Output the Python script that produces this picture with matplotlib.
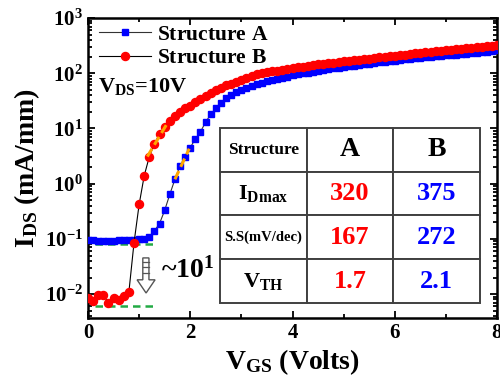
import matplotlib.pyplot as plt
from matplotlib.patches import Polygon
from matplotlib.ticker import LogLocator, MultipleLocator, NullFormatter

plt.rcParams['font.family'] = 'Liberation Serif'
plt.rcParams['font.weight'] = 'bold'
plt.rcParams['axes.labelweight'] = 'bold'
plt.rcParams['mathtext.fontset'] = 'custom'
plt.rcParams['mathtext.rm'] = 'Liberation Serif:bold'
plt.rcParams['mathtext.it'] = 'Liberation Serif:bold'
plt.rcParams['mathtext.bf'] = 'Liberation Serif:bold'

# gate voltage sweep, 0 .. 8 V in 0.1 V steps
vgs = [i / 10 for i in range(81)]

ids_a = [0.095, 0.094, 0.093, 0.093, 0.093, 0.093, 0.094, 0.094, 0.095, 0.096,
         0.098, 0.100, 0.110, 0.140, 0.190, 0.330, 0.640, 1.20, 2.10, 3.10,
         4.50, 6.50, 8.70, 13.0, 18.0, 23.0, 29.0, 35.0, 40.0, 45.0,
         50.0, 54.0, 59.0, 63.0, 67.0, 71.0, 75.0, 79.0, 83.0, 87.0,
         91.0, 95.0, 99.0, 103., 107., 111., 115., 119., 123., 126.,
         130., 134., 138., 142., 146., 150., 154., 158., 162., 166.,
         170., 174., 178., 182., 186., 190., 194., 198., 202., 206.,
         210., 214., 218., 222., 227., 232., 237., 242., 247., 252.,
         258.]

ids_b = [0.0085, 0.0075, 0.0095, 0.0095, 0.0070, 0.0085, 0.0078, 0.0092, 0.0110, 0.085,
         0.42, 1.40, 3.10, 5.30, 8.00, 10.5, 13.5, 16.5, 19.5, 23.0,
         26.0, 30.0, 34.0, 39.0, 44.0, 49.0, 54.0, 60.0, 65.0, 70.0,
         76.0, 82.0, 88.0, 95.0, 100., 104., 108., 112., 116., 120.,
         124., 128., 132., 136., 140., 144., 148., 152., 156., 160.,
         164., 168., 172., 176., 180., 184., 188., 193., 198., 203.,
         208., 213., 218., 223., 228., 233., 238., 243., 248., 253.,
         258., 264., 270., 276., 282., 288., 294., 300., 306., 312.,
         320.]

# subthreshold slope fits (dashed orange) and off-current floors (dashed green)
fit_a_v = [1.70, 1.98]
fit_a_i = [1.2, 4.3]
fit_b_v = [1.16, 1.53]
fit_b_i = [3.1, 11.5]
floor_v = [0.14, 1.30]
floor_a = [0.081, 0.081]
floor_b = [0.0061, 0.0061]

table_rows = [['Structure', 'A', 'B'],
              [r'I$_{\mathregular{Dmax}}$', '320', '375'],
              ['S.S(mV/dec)', '167', '272'],
              [r'V$_{\mathregular{TH}}$', '1.7', '2.1']]

fig = plt.figure(figsize=(5.0, 3.83), dpi=100)
ax = fig.add_axes([0.176, 0.170, 0.818, 0.783])

ax.plot(vgs, ids_a, color='#333333', lw=0.8, marker='s', ms=4.8,
        mfc='blue', mec='blue', label=r'$\mathrm{Structure\ A}$', zorder=3)
ax.plot(vgs, ids_b, color='black', lw=0.8, marker='o', ms=5.8,
        mfc='red', mec='red', label=r'$\mathrm{Structure\ B}$', zorder=4)
ax.plot(fit_a_v, fit_a_i, color='orange', lw=2.2, ls=(0, (3, 1.5)), zorder=5)
ax.plot(fit_b_v, fit_b_i, color='orange', lw=2.2, ls=(0, (3, 1.5)), zorder=5)
ax.plot(floor_v, floor_a, color='#22aa44', lw=1.8, ls=(0, (3, 2)), zorder=2)
ax.plot(floor_v, floor_b, color='#22aa44', lw=1.8, ls=(0, (3, 2)), zorder=2)

ax.set_yscale('log')
ax.set_xlim(0, 8)
ax.set_ylim(10 ** -2.43, 1e3)
ax.xaxis.set_major_locator(MultipleLocator(2))
ax.xaxis.set_minor_locator(MultipleLocator(1))
ax.yaxis.set_major_locator(LogLocator(base=10, numticks=10))
ax.yaxis.set_minor_locator(LogLocator(base=10, subs=range(2, 10), numticks=20))
ax.yaxis.set_minor_formatter(NullFormatter())
ax.tick_params(which='both', direction='in', top=True, right=True, width=1.3, labelsize=15)
ax.tick_params(which='major', length=5)
ax.tick_params(which='minor', length=3)
for s in ax.spines.values():
    s.set_linewidth(1.8)

ax.set_xlabel(r'V$_{\mathregular{GS}}$ (Volts)', fontsize=20, fontweight='bold', labelpad=3)
ax.set_ylabel(r'I$_{\mathregular{DS}}$ (mA/mm)', fontsize=20, fontweight='bold', labelpad=2)

ax.legend(loc='upper left', bbox_to_anchor=(-0.005, 1.02), frameon=False, fontsize=15.5,
          handlelength=2.4, handletextpad=0.3, labelspacing=0.15, borderaxespad=0.2)
ax.text(0.025, 0.77, r'V$_{\mathregular{DS}}$=10V', transform=ax.transAxes,
        fontsize=16, fontweight='bold', va='center')

# hollow arrow marking the one-decade drop of off-current
arrow = Polygon([(0.134, 0.200), (0.149, 0.200), (0.149, 0.127), (0.164, 0.127),
                 (0.142, 0.083), (0.120, 0.127), (0.134, 0.127)],
                closed=True, transform=ax.transAxes, fc='white', ec='#555555', lw=1.0, zorder=6)
ax.add_patch(arrow)
for yy in [0.187, 0.170, 0.150]:
    ax.plot([0.134, 0.149], [yy, yy], transform=ax.transAxes, color='#555555', lw=0.9, zorder=7)
ax.text(0.178, 0.16, r'~10$^{1}$', transform=ax.transAxes, fontsize=20, fontweight='bold',
        va='center')

tb = ax.table(cellText=table_rows, bbox=[0.323, 0.05, 0.635, 0.583],
              colWidths=[87, 86, 87], cellLoc='center')
tb.auto_set_font_size(False)
tb.set_zorder(8)
for (r, c), cell in tb.get_celld().items():
    cell.set_edgecolor('#404040')
    cell.set_linewidth(1.4)
    cell.set_facecolor('white')
    txt = cell.get_text()
    txt.set_fontweight('bold')
    if c == 0:
        txt.set_fontsize({0: 12.5, 1: 16, 2: 10.5, 3: 16}[r])
    else:
        txt.set_fontsize(20 if r == 0 else 19)
        if r > 0:
            txt.set_color('red' if c == 1 else 'blue')

fig.savefig('out.png', dpi=100)
